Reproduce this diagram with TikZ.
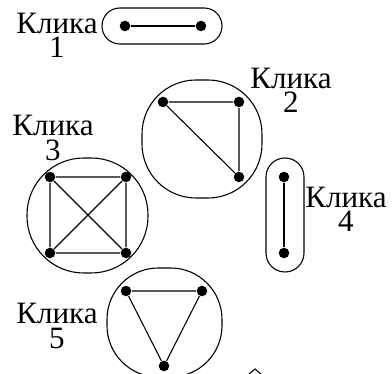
\documentclass[tikz,border=0pt]{standalone}
\usepackage{fontspec}
\setmainfont{Liberation Serif}
\usepackage{tikz}

\begin{document}
\begin{tikzpicture}[x=0.37pt,y=-0.37pt]

% Define styles
\tikzstyle{vertex}=[circle, fill=black, inner sep=0pt, minimum size=3.9pt]
\tikzstyle{clique}=[draw, line width=0.4pt]
\tikzstyle{klika}=[align=center, inner sep=0pt,
  font=\fontsize{11.5}{9}\selectfont]
\tikzstyle{edge}=[draw, line width=0.4pt]

\useasboundingbox (0,0) rectangle (392,374);
\clip (0,0) rectangle (392,374);

% Clique 1
\draw[clique, rounded corners=6.6pt] (102,8) rectangle (222,44);
\node[vertex] (a1) at (125,26) {};
\node[vertex] (a2) at (201,26) {};
\path[edge] (a1) -- (a2);
\node[klika] (k1) at (57,35) {Клика\\1};

% Clique 2
\draw[clique, rounded corners=20pt] (142,80) rectangle (262,198);
\node[vertex] (b1) at (163,102) {};
\node[vertex] (b2) at (239,102) {};
\node[vertex] (b3) at (239,177) {};
\path[edge] (b1) -- (b2) -- (b3) -- (b1);
\node[klika] (k2) at (291,90) {Клика\\2};

% Clique 3
\draw[clique, rounded corners=21pt] (27,158) rectangle (148,273);
\node[vertex] (c1) at (50,177) {};
\node[vertex] (c2) at (126,177) {};
\node[vertex] (c3) at (126,253) {};
\node[vertex] (c4) at (50,253) {};
\path[edge] (c1) -- (c2) -- (c3) -- (c4) -- (c1) -- (c3);
\path[edge] (c2) -- (c4);
\node[klika] (k3) at (53,138) {Клика\\3};

% Clique 4
\draw[clique, rounded corners=7pt] (266,158) rectangle (304,272);
\node[vertex] (d1) at (284,177) {};
\node[vertex] (d2) at (284,253) {};
\path[edge] (d1) -- (d2);
\node[klika] (k4) at (346,209) {Клика\\4};

% Clique 5
\draw[clique, rounded corners=19pt] (107,268) rectangle (222,377);
\node[vertex] (e1) at (126,291) {};
\node[vertex] (e2) at (202,291) {};
\node[vertex] (e3) at (164,366) {};
\path[edge] (e1) -- (e2) -- (e3) -- (e1);
\node[klika] (k5) at (57,326) {Клика\\5};

% cut off at the bottom
\draw (248,375) -- (255,369) -- (262,375);

\end{tikzpicture}
\end{document}
